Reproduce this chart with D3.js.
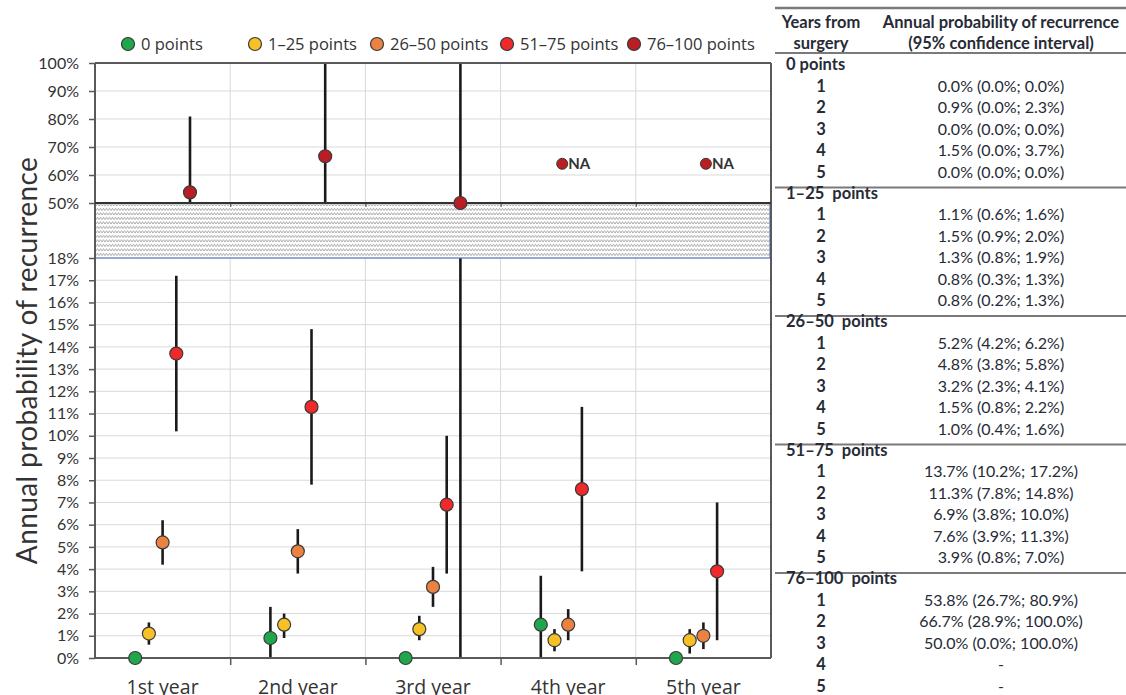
<!DOCTYPE html>
<html>
<head>
<meta charset="utf-8">
<script src="https://cdn.jsdelivr.net/npm/d3@7"></script>
<style>
  html, body { margin: 0; padding: 0; background: #fff; }
  svg { display: block; font-family: Lato, "Open Sans", sans-serif; }
</style>
</head>
<body>
<svg id="chart" width="1126" height="695"></svg>
<script>
// Years after surgery and risk-score groups
const years = ["1st year", "2nd year", "3rd year", "4th year", "5th year"];
const groups = ["0 points", "1–25 points", "26–50 points", "51–75 points", "76–100 points"];
const groupColors = ["#22a64b", "#f6c026", "#ec8242", "#f0292b", "#b81e24"];

// Annual probability of recurrence (%) with 95% CI, one array per group
const est0 = [0.0, 0.9, 0.0, 1.5, 0.0];
const lo0  = [0.0, 0.0, 0.0, 0.0, 0.0];
const hi0  = [0.0, 2.3, 0.0, 3.7, 0.0];

const est1 = [1.1, 1.5, 1.3, 0.8, 0.8];
const lo1  = [0.6, 0.9, 0.8, 0.3, 0.2];
const hi1  = [1.6, 2.0, 1.9, 1.3, 1.3];

const est2 = [5.2, 4.8, 3.2, 1.5, 1.0];
const lo2  = [4.2, 3.8, 2.3, 0.8, 0.4];
const hi2  = [6.2, 5.8, 4.1, 2.2, 1.6];

const est3 = [13.7, 11.3, 6.9, 7.6, 3.9];
const lo3  = [10.2, 7.8, 3.8, 3.9, 0.8];
const hi3  = [17.2, 14.8, 10.0, 11.3, 7.0];

const est4 = [53.8, 66.7, 50.0, null, null];
const lo4  = [26.7, 28.9, 0.0, null, null];
const hi4  = [80.9, 100.0, 100.0, null, null];

const estimates = [est0, est1, est2, est3, est4];
const lowers = [lo0, lo1, lo2, lo3, lo4];
const uppers = [hi0, hi1, hi2, hi3, hi4];

// Axis ticks for the two segments of the broken y axis
const lowTicks = d3.range(0, 19, 1);
const highTicks = [50, 60, 70, 80, 90, 100];
const naLevel = 64;   // height at which "NA" notes sit
const tableGroupLabels = ["0 points", "1–25\u00a0 points", "26–50\u00a0 points", "51–75\u00a0 points", "76–100\u00a0 points"];

const svg = d3.select("#chart");

// ---- layout
const plotLeft = 95, plotRight = 771, plotTop = 63, plotBottom = 658;
const breakHigh = 203, breakLow = 258;

const x = d3.scaleBand().domain(years).range([plotLeft, plotRight]).padding(0);
const xEdge = d3.scaleLinear().domain([0, years.length]).range([plotLeft, plotRight]);
const seriesOffset = d3.scaleLinear().domain([0, groups.length - 1]).range([-27.4, 27.4]);
const yLow = d3.scaleLinear().domain([0, 18]).range([plotBottom, breakLow]);
const yHigh = d3.scaleLinear().domain([50, 100]).range([breakHigh, plotTop]);
const yOf = v => v >= 50 ? yHigh(v) : yLow(v);

const gridColor = "#d9d9d9", axisColor = "#595959", textColor = "#333";

// ---- gridlines
const grid = svg.append("g");
grid.selectAll(".hl").data(lowTicks).join("line")
  .attr("x1", plotLeft).attr("x2", plotRight)
  .attr("y1", d => yLow(d)).attr("y2", d => yLow(d))
  .attr("stroke", gridColor).attr("stroke-width", 1);
grid.selectAll(".hh").data(highTicks).join("line")
  .attr("x1", plotLeft).attr("x2", plotRight)
  .attr("y1", d => yHigh(d)).attr("y2", d => yHigh(d))
  .attr("stroke", gridColor).attr("stroke-width", 1);
[1, 2, 3, 4].forEach(i => {
  grid.append("line").attr("x1", xEdge(i)).attr("x2", xEdge(i))
    .attr("y1", plotTop).attr("y2", breakHigh).attr("stroke", gridColor);
  grid.append("line").attr("x1", xEdge(i)).attr("x2", xEdge(i))
    .attr("y1", breakLow).attr("y2", plotBottom).attr("stroke", gridColor);
});

// ---- error bars
const bars = svg.append("g").attr("stroke", "#1a1a1a").attr("stroke-width", 2.6);
groups.forEach((g, gi) => {
  years.forEach((yr, yi) => {
    const lo = lowers[gi][yi], hi = uppers[gi][yi];
    if (lo == null || hi == null || hi === lo) return;
    const cx = x(yr) + x.bandwidth() / 2 + seriesOffset(gi);
    // part in the lower segment
    if (lo < 18) {
      bars.append("line").attr("x1", cx).attr("x2", cx)
        .attr("y1", yLow(lo)).attr("y2", yLow(Math.min(hi, 18)));
    }
    // part in the upper segment
    if (hi > 50) {
      bars.append("line").attr("x1", cx).attr("x2", cx)
        .attr("y1", yHigh(Math.max(lo, 50))).attr("y2", yHigh(hi));
    }
  });
});

// ---- axis break band
const defs = svg.append("defs");
const pat = defs.append("pattern").attr("id", "zigzag")
  .attr("patternUnits", "userSpaceOnUse").attr("width", 6).attr("height", 4.5);
pat.append("rect").attr("width", 6).attr("height", 4.5).attr("fill", "#fff");
pat.append("path").attr("d", "M0,3.6 L1.5,1.2 L3,3.6 L4.5,1.2 L6,3.6")
  .attr("fill", "none").attr("stroke", "#a3a3a3").attr("stroke-width", 0.9);
svg.append("rect")
  .attr("x", plotLeft).attr("y", breakHigh)
  .attr("width", plotRight - plotLeft - 1).attr("height", breakLow - breakHigh)
  .attr("fill", "url(#zigzag)").attr("stroke", "#5b7fc7").attr("stroke-width", 1.2);

// ---- axes
const axisLow = svg.append("g").attr("transform", `translate(${plotLeft},0)`)
  .call(d3.axisLeft(yLow).tickValues(lowTicks).tickFormat(d => d + "%").tickSize(6).tickPadding(10));
const axisHigh = svg.append("g").attr("transform", `translate(${plotLeft},0)`)
  .call(d3.axisLeft(yHigh).tickValues(highTicks).tickFormat(d => d + "%").tickSize(6).tickPadding(10));
[axisLow, axisHigh].forEach(a => {
  a.select(".domain").remove();
  a.selectAll(".tick line").attr("stroke", axisColor).attr("stroke-width", 1.5);
  a.selectAll(".tick text").attr("fill", textColor).style("font-size", "16px")
    .style("font-family", "Lato, sans-serif");
});

// bottom axis ticks at year boundaries, labels at year centres
const xTicks = svg.append("g").attr("transform", `translate(0,${plotBottom})`)
  .call(d3.axisBottom(xEdge).tickValues([1, 2, 3, 4]).tickFormat("").tickSize(7));
xTicks.select(".domain").remove();
xTicks.selectAll(".tick line").attr("stroke", axisColor).attr("stroke-width", 1.5);

const xLabels = svg.append("g").attr("transform", `translate(0,${plotBottom})`)
  .call(d3.axisBottom(x).tickSize(0).tickPadding(22));
xLabels.select(".domain").remove();
xLabels.selectAll(".tick text").attr("fill", textColor).style("font-size", "19.5px")
  .style("font-family", "'Open Sans', sans-serif");

// upper segment baseline with small ticks
const xTop = svg.append("g").attr("transform", `translate(0,${breakHigh})`)
  .call(d3.axisBottom(xEdge).tickValues([1, 2, 3, 4]).tickFormat("").tickSize(4));
xTop.select(".domain").remove();
xTop.selectAll(".tick line").attr("stroke", axisColor).attr("stroke-width", 1.2);

// plot frame
const frame = svg.append("g").attr("stroke", axisColor).attr("stroke-width", 2).attr("fill", "none");
frame.append("line").attr("x1", plotLeft).attr("x2", plotLeft).attr("y1", plotTop).attr("y2", plotBottom);
frame.append("line").attr("x1", plotRight).attr("x2", plotRight).attr("y1", plotTop).attr("y2", plotBottom);
frame.append("line").attr("x1", plotLeft).attr("x2", plotRight).attr("y1", plotTop).attr("y2", plotTop);
frame.append("line").attr("x1", plotLeft).attr("x2", plotRight).attr("y1", plotBottom).attr("y2", plotBottom);
frame.append("line").attr("x1", plotLeft).attr("x2", plotRight).attr("y1", breakHigh).attr("y2", breakHigh)
  .attr("stroke", "#333");

// ---- markers
const marks = svg.append("g");
groups.forEach((g, gi) => {
  years.forEach((yr, yi) => {
    const v = estimates[gi][yi];
    if (v == null) return;
    marks.append("circle")
      .attr("cx", x(yr) + x.bandwidth() / 2 + seriesOffset(gi))
      .attr("cy", yOf(v))
      .attr("r", 6.5)
      .attr("fill", groupColors[gi])
      .attr("stroke", "#3a3a3a").attr("stroke-width", 1.2);
  });
});

// "NA" notes for years without data in the highest group
const naShift = { "4th year": -6, "5th year": 2.5 };
years.forEach((yr, yi) => {
  if (est4[yi] != null) return;
  const cx = x(yr) + x.bandwidth() / 2 + naShift[yr];
  marks.append("circle").attr("cx", cx).attr("cy", yHigh(naLevel)).attr("r", 5.5)
    .attr("fill", groupColors[4]).attr("stroke", "#3a3a3a").attr("stroke-width", 1);
  marks.append("text").attr("x", cx + 6).attr("y", yHigh(naLevel) + 5.5)
    .attr("fill", textColor).style("font-size", "15px").style("font-weight", 700)
    .text("NA");
});

// ---- y axis title
svg.append("text")
  .attr("transform", `translate(37,${(plotTop + plotBottom) / 2}) rotate(-90)`)
  .attr("text-anchor", "middle")
  .attr("fill", textColor)
  .style("font-size", "28px")
  .style("letter-spacing", "0.4px")
  .text("Annual probability of recurrence");

// ---- legend
const legendX = [128, 255, 377, 507, 634];
const legend = svg.append("g").style("font-family", "'Open Sans', sans-serif");
groups.forEach((g, gi) => {
  legend.append("circle").attr("cx", legendX[gi]).attr("cy", 44).attr("r", 6.5)
    .attr("fill", groupColors[gi]).attr("stroke", "#3a3a3a").attr("stroke-width", 1.2);
  legend.append("text").attr("x", legendX[gi] + 13).attr("y", 49.5)
    .attr("fill", textColor).style("font-size", "16.5px").text(g);
});

// ---- table of estimates
const table = svg.append("g").attr("fill", "#262b36").style("font-size", "16.5px");
const tLeft = 775, tRight = 1126, colYear = 821, colVal = 1001;
const ruleColor = "#7a7a7a";
table.append("line").attr("x1", tLeft).attr("x2", tRight).attr("y1", 8).attr("y2", 8)
  .attr("stroke", ruleColor).attr("stroke-width", 2.5);
table.append("text").attr("x", colYear).attr("y", 28).attr("text-anchor", "middle")
  .style("font-weight", 700).text("Years from");
table.append("text").attr("x", colYear).attr("y", 49).attr("text-anchor", "middle")
  .style("font-weight", 700).text("surgery");
table.append("text").attr("x", colVal).attr("y", 28).attr("text-anchor", "middle")
  .style("font-weight", 700).text("Annual probability of recurrence");
table.append("text").attr("x", colVal).attr("y", 49).attr("text-anchor", "middle")
  .style("font-weight", 700).text("(95% confidence interval)");
table.append("line").attr("x1", tLeft).attr("x2", tRight).attr("y1", 53).attr("y2", 53)
  .attr("stroke", ruleColor).attr("stroke-width", 2);

const fmt = v => v.toFixed(1) + "%";
const groupStep = 128.5, rowStep = 21.5;
groups.forEach((g, gi) => {
  const y0 = 70 + gi * groupStep;
  table.append("text").attr("x", 786).attr("y", y0)
    .style("font-weight", 700).text(tableGroupLabels[gi]);
  years.forEach((yr, yi) => {
    const ry = y0 + (yi + 1) * rowStep;
    table.append("text").attr("x", colYear).attr("y", ry).attr("text-anchor", "middle")
      .style("font-weight", 700).text(yi + 1);
    const v = estimates[gi][yi];
    const label = v == null ? "-"
      : `${fmt(v)} (${fmt(lowers[gi][yi])}; ${fmt(uppers[gi][yi])})`;
    table.append("text").attr("x", colVal).attr("y", ry).attr("text-anchor", "middle")
      .style("font-size", "16px")
      .text(label);
  });
  if (gi < groups.length - 1) {
    const ly = y0 + 5 * rowStep + 10;
    table.append("line").attr("x1", tLeft).attr("x2", tRight).attr("y1", ly).attr("y2", ly)
      .attr("stroke", ruleColor).attr("stroke-width", 2);
  }
});
</script>
</body>
</html>
